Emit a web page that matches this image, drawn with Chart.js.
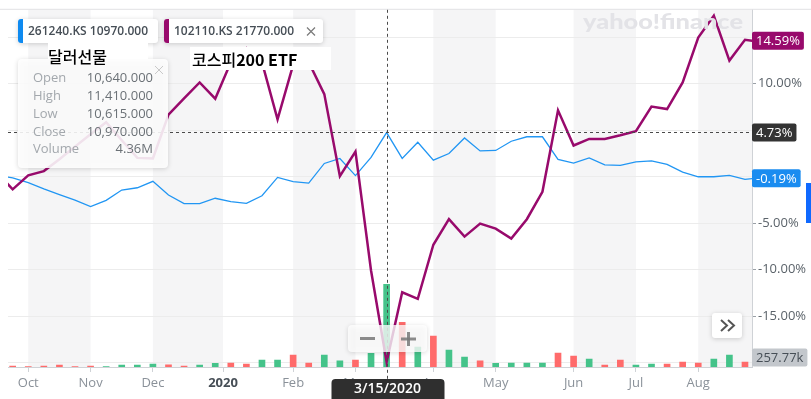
<!DOCTYPE html>
<html>
<head>
<meta charset="utf-8">
<script src="https://cdn.jsdelivr.net/npm/chart.js@4.4.1/dist/chart.umd.min.js"></script>
<style>
  html, body { margin: 0; padding: 0; background: #fff; }
  #wrap { width: 811px; height: 399px; }
</style>
</head>
<body>
<div id="wrap"><canvas id="c" width="811" height="399"></canvas></div>
<script>
// weekly points, index -1 .. 48 (first and last are partly outside the visible window)
var weekFrom = -1;
var usdFutures = [0.14, -0.13, -0.66, -1.32, -1.93, -2.52, -3.23, -2.55, -1.45, -1.20, -0.51,
  -1.98, -2.91, -2.91, -2.33, -2.70, -2.87, -2.06, -0.09, -0.54, -0.70, 1.41, 1.95, 0.11, 2.06,
  4.73, 1.95, 3.69, 1.77, 2.48, 4.15, 2.76, 2.81, 3.80, 4.28, 4.28, 1.84, 1.45, 2.01, 1.26, 1.20,
  1.58, 1.69, 1.31, 0.48, -0.02, -0.02, 0.13, -0.30, -0.10];
var kospiEtf = [0.40, -1.37, 0.13, 0.59, 1.87, 3.22, 4.55, 5.84, 3.91, 2.01, 1.95, 6.66, 8.40,
  10.12, 8.37, 12.30, 13.80, 12.30, 6.16, 12.00, 12.30, 8.87, 0.05, 2.68, -10.10, -19.94, -12.44,
  -13.15, -7.33, -4.58, -6.45, -5.05, -5.59, -6.66, -4.58, -1.63, 7.12, 3.34, 4.05, 4.05, 4.44,
  4.87, 7.52, 7.26, 10.12, 14.94, 17.29, 12.47, 14.70, 14.50];
// volume (millions), index 0 .. 47
var volume = [0.05, 0.02, 0.05, 0.10, 0.02, 0.05, 0.02, 0.10, 0.10, 0.16, 0.12, 0.05, 0.10, 0.19,
  0.21, 0.16, 0.37, 0.37, 0.63, 0.21, 0.63, 0.32, 0.37, 0.72, 4.36, 2.36, 1.05, 1.63, 0.89, 0.53,
  0.32, 0.19, 0.21, 0.21, 0.21, 0.74, 0.58, 0.42, 0.10, 0.37, 0.10, 0.16, 0.16, 0.26, 0.21, 0.42,
  0.63, 0.26];
var volumeUp = [0, 0, 0, 0, 0, 0, 1, 1, 1, 1, 0, 0, 1, 1, 0, 0, 1, 1, 0, 0, 1, 1, 0, 1, 1, 0, 1, 0,
  1, 1, 0, 1, 1, 1, 1, 0, 0, 1, 0, 0, 1, 1, 0, 0, 0, 1, 1, 0];
var monthLabels = ['Oct', 'Nov', 'Dec', '2020', 'Feb', 'Mar', 'Apr', 'May', 'Jun', 'Jul', 'Aug'];
var monthPos = [1, 5, 9, 13.5, 18, 22, 27, 31, 36, 40, 44];
var pctTicks = [-20, -15, -10, -5, 0, 5, 10, 15];
var pctShown = [-15, -10, -5, 10];

var crossWeek = 24;
var crossDate = '3/15/2020';
var crossValue = 4.73;
var lastUsd = -0.19;
var lastKospi = 14.59;
var lastVolume = '257.77k';
var usdInfo = { open: '10,640.000', high: '11,410.000', low: '10,615.000', close: '10,970.000', volume: '4.36M' };

var FONT = '"Open Sans", "Liberation Sans", sans-serif';
var KFONT = '"Noto Sans CJK KR", "Noto Sans", sans-serif';
var PURPLE = '#980a6c';
var BLUE = '#2196f3';

function toPoints(vals, from) {
  return vals.map(function(v, i) { return { x: from + i, y: v }; });
}

function rr(ctx, x, y, w, h, r) {
  ctx.beginPath();
  ctx.moveTo(x + r, y);
  ctx.arcTo(x + w, y, x + w, y + h, r);
  ctx.arcTo(x + w, y + h, x, y + h, r);
  ctx.arcTo(x, y + h, x, y, r);
  ctx.arcTo(x, y, x + w, y, r);
  ctx.closePath();
}

function shadowOn(ctx) {
  ctx.shadowColor = 'rgba(0,0,0,0.18)';
  ctx.shadowBlur = 5;
  ctx.shadowOffsetY = 1;
}
function shadowOff(ctx) {
  ctx.shadowColor = 'transparent';
  ctx.shadowBlur = 0;
  ctx.shadowOffsetY = 0;
}

var bands = {
  id: 'bands',
  beforeDraw: function(chart) {
    var ctx = chart.ctx, a = chart.chartArea, x = chart.scales.x;
    ctx.save();
    ctx.fillStyle = '#f5f5f6';
    for (var i = 0; i < monthPos.length; i += 2) {
      var x0 = x.getPixelForValue(monthPos[i]);
      var x1 = i + 1 < monthPos.length ? x.getPixelForValue(monthPos[i + 1]) : a.right;
      ctx.fillRect(x0, a.top, Math.min(x1, a.right) - x0, a.bottom - a.top);
    }
    ctx.restore();
  }
};

function badge(ctx, text, left, yc, bg, fg, r) {
  ctx.font = '13px ' + FONT;
  var w = ctx.measureText(text).width + 8;
  ctx.fillStyle = bg;
  rr(ctx, left, yc - 9, w, 18, r);
  ctx.fill();
  ctx.fillStyle = fg;
  ctx.textAlign = 'left';
  ctx.textBaseline = 'middle';
  ctx.fillText(text, left + 4, yc + 0.5);
}

var overlay = {
  id: 'overlay',
  afterDraw: function(chart) {
    var ctx = chart.ctx, a = chart.chartArea;
    var x = chart.scales.x, y = chart.scales.y;
    ctx.save();

    // top rule
    ctx.fillStyle = '#e2e2e4';
    ctx.fillRect(0, a.top - 1, chart.width, 1);

    // watermark
    ctx.font = '900 20px Lato, ' + FONT;
    var ww = ctx.measureText('yahoo!finance').width;
    ctx.save();
    ctx.translate(583, 29);
    ctx.scale(160 / ww, 1.05);
    ctx.fillStyle = '#e3e3e7';
    ctx.textBaseline = 'alphabetic';
    ctx.fillText('yahoo!finance', 0, 0);
    ctx.restore();

    // crosshair
    var cx = Math.round(x.getPixelForValue(crossWeek)) + 0.5;
    var cy = Math.round(y.getPixelForValue(crossValue)) - 0.5;
    ctx.strokeStyle = '#4a4a4a';
    ctx.lineWidth = 1;
    ctx.setLineDash([3, 3]);
    ctx.beginPath();
    ctx.moveTo(cx, a.top);
    ctx.lineTo(cx, chart.height);
    ctx.moveTo(a.left, cy);
    ctx.lineTo(a.right, cy);
    ctx.stroke();
    ctx.setLineDash([]);

    // right side badges
    badge(ctx, lastKospi.toFixed(2) + '%', a.right, y.getPixelForValue(lastKospi), PURPLE, '#fff', 2);
    badge(ctx, crossValue.toFixed(2) + '%', a.right, y.getPixelForValue(crossValue), '#333333', '#fff', 2);
    badge(ctx, lastUsd.toFixed(2) + '%', a.right, y.getPixelForValue(lastUsd), '#1a8cf0', '#fff', 2);
    badge(ctx, lastVolume, a.right, a.bottom - 9.5, '#c3c7cc', '#464e56', 2);
    ctx.fillStyle = '#0f69ff';
    ctx.fillRect(806, 183, 5, 40);

    // >> button
    shadowOn(ctx);
    ctx.fillStyle = '#fff';
    rr(ctx, 712, 313, 30, 25, 3);
    ctx.fill();
    shadowOff(ctx);
    ctx.strokeStyle = '#555';
    ctx.lineWidth = 2;
    ctx.beginPath();
    ctx.moveTo(721, 320); ctx.lineTo(727, 325.5); ctx.lineTo(721, 331);
    ctx.moveTo(728, 320); ctx.lineTo(734, 325.5); ctx.lineTo(728, 331);
    ctx.stroke();

    // zoom controls
    shadowOn(ctx);
    ctx.fillStyle = 'rgba(255,255,255,0.78)';
    rr(ctx, 348, 325, 79, 27, 4);
    ctx.fill();
    shadowOff(ctx);
    ctx.fillStyle = 'rgba(120,120,120,0.85)';
    ctx.fillRect(360, 337, 15, 3);
    ctx.fillRect(401, 337.5, 15, 3);
    ctx.fillRect(407, 332, 3, 14);

    // date badge
    ctx.fillStyle = '#2f2f2f';
    rr(ctx, cx - 56, 379, 113, 26, 4);
    ctx.fill();
    ctx.fillStyle = '#fff';
    ctx.font = '600 14px ' + FONT;
    ctx.textAlign = 'center';
    ctx.textBaseline = 'middle';
    ctx.fillText(crossDate, cx, 389.5);

    // symbol chips
    function chip(left, w, color, text, closable) {
      shadowOn(ctx);
      ctx.fillStyle = '#fff';
      rr(ctx, left, 19, w, 24, 3);
      ctx.fill();
      shadowOff(ctx);
      ctx.save();
      rr(ctx, left, 19, w, 24, 3);
      ctx.clip();
      ctx.fillStyle = color;
      ctx.fillRect(left, 19, 5, 24);
      ctx.restore();
      ctx.fillStyle = '#464e56';
      ctx.font = '600 12px ' + FONT;
      ctx.textAlign = 'left';
      ctx.textBaseline = 'middle';
      ctx.fillText(text, left + 10, 31.5);
      if (closable) {
        ctx.strokeStyle = '#7a7a7a';
        ctx.lineWidth = 1.2;
        ctx.beginPath();
        var ox = left + w - 12;
        ctx.moveTo(ox - 4, 27.5); ctx.lineTo(ox + 4, 35.5);
        ctx.moveTo(ox + 4, 27.5); ctx.lineTo(ox - 4, 35.5);
        ctx.stroke();
      }
    }
    chip(18, 140, '#0e8af0', '261240.KS 10970.000', false);
    chip(164, 159, PURPLE, '102110.KS 21770.000', true);

    // OHLC info box
    shadowOn(ctx);
    ctx.fillStyle = 'rgba(255,255,255,0.88)';
    rr(ctx, 18, 59, 150, 109, 4);
    ctx.fill();
    shadowOff(ctx);
    var rows = [['Open', usdInfo.open], ['High', usdInfo.high], ['Low', usdInfo.low],
      ['Close', usdInfo.close], ['Volume', usdInfo.volume]];
    ctx.font = '13px ' + FONT;
    ctx.textBaseline = 'middle';
    rows.forEach(function(r, i) {
      var ry = 78.5 + i * 17.8;
      ctx.textAlign = 'left';
      ctx.fillStyle = '#a3a8ad';
      ctx.fillText(r[0], 33, ry);
      ctx.textAlign = 'right';
      ctx.fillStyle = '#6b7176';
      ctx.fillText(r[1], 153, ry);
    });
    ctx.strokeStyle = '#c9c9c9';
    ctx.lineWidth = 1;
    ctx.beginPath();
    ctx.moveTo(155, 66); ctx.lineTo(163, 74);
    ctx.moveTo(163, 66); ctx.lineTo(155, 74);
    ctx.stroke();

    // Korean captions
    ctx.fillStyle = '#fff';
    ctx.fillRect(48, 43, 100, 16);
    ctx.fillRect(190, 47, 141, 23);
    ctx.fillStyle = '#000';
    ctx.textAlign = 'left';
    ctx.textBaseline = 'middle';
    ctx.font = '500 16px ' + KFONT;
    ctx.fillText('달러선물', 48, 57);
    ctx.fillText('코스피', 192, 60);
    var kw = ctx.measureText('코스피').width;
    ctx.font = 'bold 16px ' + KFONT;
    ctx.fillText('200 ETF', 192 + kw, 60);

    ctx.restore();
  }
};

var ctx = document.getElementById('c').getContext('2d');
new Chart(ctx, {
  data: {
    datasets: [
      {
        type: 'line',
        label: '102110.KS',
        data: toPoints(kospiEtf, weekFrom),
        borderColor: PURPLE,
        borderWidth: 2.5,
        pointRadius: 0,
        tension: 0,
        yAxisID: 'y',
        order: 1
      },
      {
        type: 'line',
        label: '261240.KS',
        data: toPoints(usdFutures, weekFrom),
        borderColor: BLUE,
        borderWidth: 1.3,
        pointRadius: 0,
        tension: 0,
        yAxisID: 'y',
        order: 2
      },
      {
        type: 'bar',
        label: 'Volume',
        data: toPoints(volume, 0),
        backgroundColor: volumeUp.map(function(u) { return u ? '#45c38a' : '#ff6b6b'; }),
        barThickness: 6,
        yAxisID: 'yv',
        order: 3
      }
    ]
  },
  options: {
    responsive: false,
    animation: false,
    devicePixelRatio: 1,
    layout: { padding: { left: 8, top: 8, right: 0, bottom: 0 } },
    plugins: { legend: { display: false }, tooltip: { enabled: false } },
    scales: {
      x: {
        type: 'linear',
        offset: false,
        min: -0.3,
        max: 47.45,
        afterBuildTicks: function(s) { s.ticks = monthPos.map(function(v) { return { value: v }; }); },
        afterFit: function(s) { s.height = 32; },
        grid: { offset: false, drawOnChartArea: false, drawTicks: true, tickLength: 5, color: '#cfd2d6' },
        border: { display: true, color: '#cfd2d6' },
        ticks: {
          autoSkip: false,
          maxRotation: 0,
          padding: 3,
          callback: function(v, i) { return monthLabels[i]; },
          color: function(c) { return c.tick && c.tick.label === '2020' ? '#464e56' : '#8a9199'; },
          font: function(c) {
            return { family: FONT, size: 13, weight: c.tick && c.tick.label === '2020' ? 'bold' : 'normal' };
          }
        }
      },
      y: {
        position: 'right',
        min: -20.47,
        max: 17.93,
        afterBuildTicks: function(s) { s.ticks = pctTicks.map(function(v) { return { value: v }; }); },
        afterFit: function(s) { s.width = 59; },
        grid: { color: '#ececec', tickColor: '#9aa0a6', tickLength: 4, drawTicks: true },
        border: { display: true, color: '#cfd2d6' },
        ticks: {
          padding: 2,
          color: '#5b636a',
          font: { family: FONT, size: 13 },
          callback: function(v) { return pctShown.indexOf(v) >= 0 ? v.toFixed(2) + '%' : ''; }
        }
      },
      yv: { display: false, min: 0, max: 18.86 }
    }
  },
  plugins: [bands, overlay]
});
</script>
</body>
</html>
